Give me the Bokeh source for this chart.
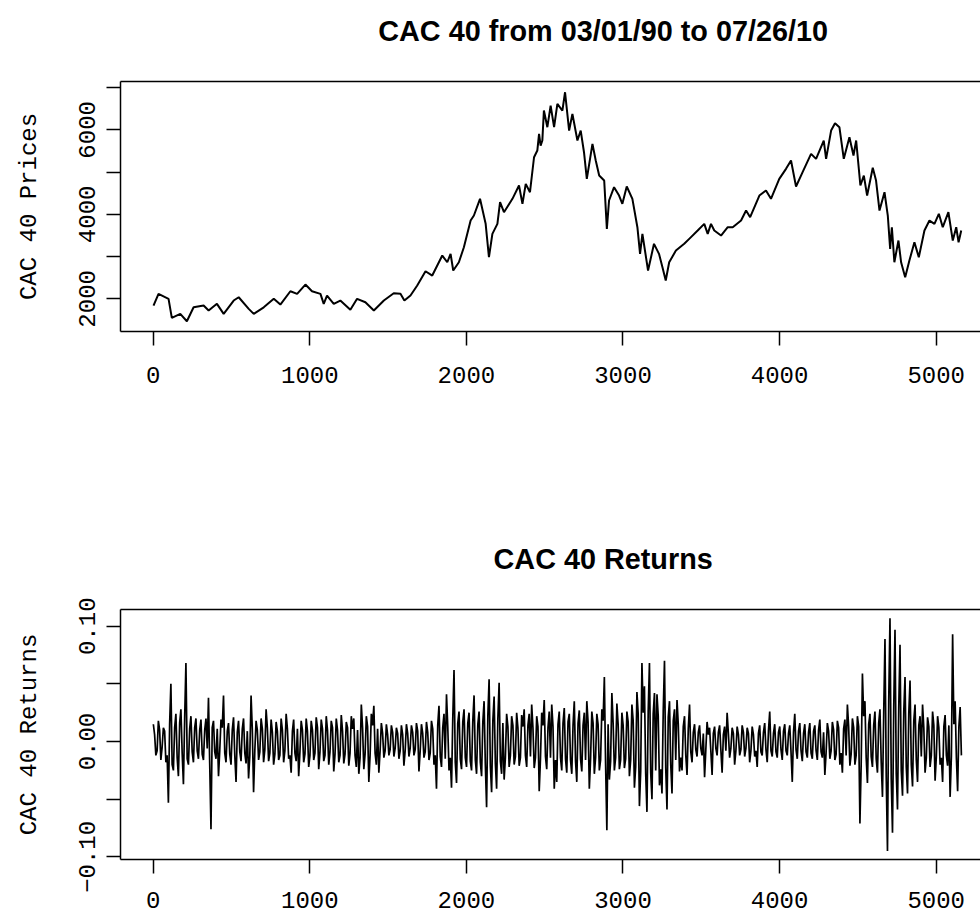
import numpy as np
from bokeh.plotting import figure
from bokeh.layouts import column
from bokeh.models import Range1d, FixedTicker, LinearAxis
from bokeh.core.properties import value
from bokeh.embed import file_html
from bokeh.resources import INLINE

# ---- data ----
price_day = [2,34,98,119,173,215,258,322,354,407,
             450,514,546,610,642,706,770,812,876,919,
             972,1014,1068,1089,1110,1153,1195,1259,1302,1355,
             1409,1473,1536,1579,1604,1643,1686,1739,1782,1846,
             1878,1899,1916,1952,1984,2027,2048,2087,2123,2144,
             2166,2198,2215,2240,2294,2336,2358,2379,2406,2432,
             2453,2464,2474,2485,2495,2517,2538,2560,2581,2613,
             2630,2656,2677,2709,2730,2751,2769,2805,2826,2848,
             2880,2897,2911,2943,2975,2996,3024,3060,3092,3109,
             3124,3160,3198,3230,3252,3273,3295,3338,3391,3423,
             3477,3519,3541,3562,3583,3626,3669,3701,3754,3786,
             3812,3871,3913,3945,3998,4041,4073,4105,4147,4201,
             4233,4282,4297,4329,4354,4382,4410,4446,4472,4489,
             4516,4538,4559,4595,4616,4638,4670,4691,4706,4717,
             4733,4759,4776,4802,4829,4861,4889,4925,4957,4989,
             5017,5042,5078,5106,5128,5143,5160]
price_val = [1841,2118,2000,1550,1645,1470,1800,1841,1723,1882,
             1645,1960,2038,1763,1645,1800,2000,1865,2180,2118,
             2338,2180,2118,1882,2078,1882,1960,1740,2000,1920,
             1723,1960,2133,2118,1960,2078,2315,2653,2551,3025,
             2866,3065,2670,2866,3221,3853,3972,4367,3775,2985,
             3538,3775,4287,4050,4367,4682,4249,4722,4523,5351,
             5510,5905,5628,5747,6457,6062,6575,6062,6615,6457,
             6890,5983,6379,5747,5983,5470,4840,5668,5273,4918,
             4800,3657,4327,4642,4445,4249,4658,4367,3695,3065,
             3538,2670,3302,3065,2748,2433,2866,3143,3302,3420,
             3617,3775,3538,3775,3617,3498,3695,3695,3853,4090,
             3932,4445,4563,4367,4840,5077,5273,4658,4998,5432,
             5313,5747,5313,5983,6156,6062,5313,5825,5392,5747,
             4682,4918,4445,5101,4800,4090,4523,3972,3183,3695,
             2866,3380,2866,2511,2906,3340,2985,3617,3853,3775,
             4012,3695,4050,3380,3695,3340,3617]

# returns: outer samples every 16 trading days (day 1, 17, 33, ...)
return_step = 16
return_outer = [
    0.015,-0.012,0.018,-0.016,0.012,-0.018,-0.053,0.050,-0.025,0.024,-0.030,0.028,-0.037,0.068,-0.020,0.022,-0.018,0.020,-0.015,0.019,
    -0.016,0.020,0.038,-0.076,0.018,-0.015,-0.030,0.019,0.040,-0.018,0.016,-0.020,0.021,-0.035,0.018,-0.017,0.020,-0.019,-0.032,0.040,
    -0.044,0.018,-0.016,0.020,-0.018,0.028,-0.017,0.019,-0.020,0.017,-0.016,0.020,-0.018,0.024,-0.015,-0.027,0.019,-0.017,-0.030,0.018,
    -0.018,0.020,-0.022,0.018,-0.016,0.021,-0.024,0.019,-0.017,0.022,-0.020,0.018,-0.026,0.020,-0.018,0.023,-0.019,0.017,-0.021,0.022,
    0.020,-0.022,-0.028,0.032,-0.024,0.022,-0.035,0.024,0.031,-0.020,-0.027,0.016,-0.014,0.015,-0.012,0.014,-0.013,0.012,-0.015,0.014,
    -0.021,0.015,-0.013,0.014,-0.012,0.016,-0.026,0.015,-0.014,0.017,-0.016,0.018,-0.020,-0.041,0.031,-0.022,0.024,0.041,-0.025,-0.040,
    0.062,-0.036,0.026,-0.024,0.028,-0.022,0.025,-0.025,0.040,-0.028,0.026,-0.030,0.035,-0.057,0.054,-0.044,0.039,-0.041,0.051,-0.028,
    -0.033,0.024,-0.022,0.022,-0.020,0.025,-0.021,0.023,0.028,-0.022,0.024,0.032,-0.023,0.022,-0.043,0.025,0.036,-0.024,0.026,0.032,
    -0.041,-0.035,0.026,-0.025,0.029,-0.027,0.024,-0.028,0.035,-0.035,0.027,-0.026,0.025,0.035,-0.041,0.026,-0.028,0.024,-0.025,0.028,
    0.056,-0.077,-0.033,0.042,-0.025,0.033,-0.024,0.025,-0.023,0.026,-0.030,0.032,-0.040,0.043,-0.056,0.068,0.048,-0.061,0.068,-0.050,
    0.042,0.041,-0.038,-0.045,0.070,-0.059,0.035,-0.045,0.028,0.036,-0.026,-0.025,0.022,-0.029,0.032,-0.018,0.015,-0.013,0.014,-0.012,
    -0.031,0.017,0.012,-0.029,0.013,-0.012,0.014,-0.027,0.013,0.025,-0.014,0.012,-0.020,0.013,-0.012,0.014,-0.013,0.012,-0.018,0.013,
    -0.013,-0.022,0.014,-0.012,0.016,-0.018,0.026,-0.013,0.015,-0.014,0.013,-0.016,0.015,-0.012,0.014,-0.035,0.024,-0.015,0.016,-0.017,
    0.015,-0.014,0.016,-0.015,0.014,-0.016,0.019,-0.014,-0.029,0.016,-0.015,0.017,-0.016,0.018,-0.020,-0.027,0.019,0.032,-0.021,0.020,
    -0.020,0.022,-0.071,0.059,0.035,-0.036,0.024,-0.022,0.026,-0.027,0.028,-0.048,0.089,-0.095,0.107,-0.079,0.097,-0.059,0.084,-0.047,
    0.056,-0.045,0.053,-0.039,0.032,-0.035,0.022,0.032,-0.027,0.021,-0.022,0.026,-0.034,0.022,-0.020,-0.035,0.023,-0.021,-0.048,0.093,
    0.035,-0.043,0.030]
# returns: in-between samples (8 trading days after each outer sample)
return_inner = [
    0.006,-0.008,0.010,-0.005,0.009,-0.012,0.015,-0.020,0.012,-0.014,0.016,-0.010,0.020,-0.015,0.011,-0.009,0.012,-0.008,0.010,-0.011,
    0.010,-0.006,-0.020,0.012,-0.009,0.011,-0.008,0.012,-0.010,0.009,-0.011,0.010,-0.012,0.008,-0.009,0.011,-0.010,0.009,-0.012,0.010,
    -0.008,0.010,-0.009,0.011,-0.007,0.012,-0.010,0.008,-0.011,0.009,-0.012,0.010,-0.008,0.011,-0.012,0.009,-0.010,0.011,-0.009,0.010,
    -0.011,0.009,-0.012,0.010,-0.010,0.012,-0.009,0.011,-0.012,0.010,-0.009,0.012,-0.011,0.010,-0.012,0.009,-0.011,0.012,-0.010,0.011,
    -0.012,0.010,-0.014,0.012,-0.011,0.013,-0.012,0.014,-0.010,0.011,-0.008,0.007,-0.008,0.006,-0.007,0.008,-0.006,0.007,-0.008,0.006,
    -0.008,0.007,-0.006,0.008,-0.007,0.009,-0.008,0.007,-0.009,0.008,-0.010,0.011,-0.012,0.014,-0.013,0.012,-0.015,0.013,-0.014,0.020,
    -0.018,0.016,-0.015,0.017,-0.014,0.016,-0.017,0.018,-0.016,0.015,-0.018,0.017,-0.020,0.022,-0.021,0.018,-0.019,0.020,-0.017,0.016,
    -0.014,0.013,-0.012,0.014,-0.013,0.012,-0.014,0.013,-0.012,0.014,-0.013,0.012,-0.014,0.013,-0.015,0.014,-0.013,0.012,-0.014,0.013,
    -0.016,0.015,-0.014,0.016,-0.015,0.017,-0.016,0.014,-0.017,0.016,-0.015,0.014,-0.016,0.017,-0.015,0.016,-0.014,0.015,-0.016,0.018,
    -0.020,0.015,-0.017,0.016,-0.014,0.015,-0.016,0.014,-0.015,0.017,-0.016,0.018,-0.022,0.024,-0.026,0.025,-0.028,0.026,-0.027,0.024,
    -0.025,0.022,-0.024,0.026,-0.023,0.021,-0.020,0.018,-0.016,0.015,-0.014,0.013,-0.012,0.011,-0.009,0.008,-0.007,0.008,-0.006,0.007,
    -0.007,0.006,-0.008,0.007,-0.006,0.008,-0.007,0.006,-0.008,0.007,-0.006,0.007,-0.008,0.006,-0.007,0.008,-0.006,0.007,-0.008,0.006,
    -0.008,0.007,-0.009,0.008,-0.007,0.009,-0.008,0.007,-0.009,0.008,-0.007,0.009,-0.008,0.007,-0.009,0.008,-0.007,0.009,-0.008,0.007,
    -0.009,0.008,-0.010,0.009,-0.008,0.010,-0.009,0.008,-0.010,0.009,-0.008,0.010,-0.011,0.012,-0.010,0.011,-0.012,0.013,-0.011,0.012,
    -0.012,0.013,-0.020,0.022,-0.014,0.015,-0.013,0.014,-0.015,0.016,-0.018,0.025,-0.030,0.035,-0.032,0.030,-0.028,0.030,-0.025,0.026,
    -0.022,0.024,-0.020,0.018,-0.016,0.014,-0.013,0.012,-0.014,0.013,-0.012,0.014,-0.013,0.012,-0.014,0.013,-0.012,0.014,-0.013,0.015,
    -0.014,0.013,-0.012]

return_day, return_val = [], []
for i, (a, b) in enumerate(zip(return_outer, return_inner)):
    return_day += [1 + return_step * i, 1 + return_step * i + return_step // 2]
    return_val += [a, b]

x_ticks = [0, 1000, 2000, 3000, 4000, 5000]
price_ticks_labelled = [2000, 4000, 6000]
price_ticks_unlabelled = [3000, 5000, 7000]
ret_ticks_labelled = [-0.10, 0.0, 0.10]
ret_ticks_unlabelled = [-0.05, 0.05]
ret_tick_labels = {-0.1: "\u22120.10", 0: "0.00", 0.1: "0.10"}
price_tick_labels = {2000: "2000", 4000: "4000", 6000: "6000"}
titles = ["CAC 40 from 03/01/90 to 07/26/10", "CAC 40 Returns"]

MONO = "Liberation Mono"
SANS = "Liberation Sans"
W = 980
FRAME_L = 120


def title_strip(text, height, baseline_from_top):
    t = figure(width=W, height=height, output_backend="svg", toolbar_location=None,
               x_range=Range1d(0, W), y_range=Range1d(0, height),
               x_axis_type=None, y_axis_type=None, min_border=0)
    t.outline_line_color = None
    t.xgrid.grid_line_color = None
    t.ygrid.grid_line_color = None
    t.text(x=[(FRAME_L + W) / 2], y=[height - baseline_from_top], text=[text],
           text_align="center", text_baseline="alphabetic",
           text_font=value(SANS), text_font_size="28.8px", text_font_style="bold",
           text_color="black")
    return t


def style(p, ylab_ticks, yunlab_ticks, ylabels, ylab, xstandoff):
    p.xgrid.grid_line_color = None
    p.ygrid.grid_line_color = None
    xa = p.below[0]
    ya = p.left[0]
    xa.ticker = FixedTicker(ticks=x_ticks, minor_ticks=[])
    ya.ticker = FixedTicker(ticks=ylab_ticks, minor_ticks=yunlab_ticks)
    ya.major_label_overrides = ylabels
    # box drawn by axis lines (left, bottom, top); right edge lies beyond the page
    p.outline_line_color = None
    top = LinearAxis(ticker=FixedTicker(ticks=[], minor_ticks=[]), axis_line_color="black",
                     axis_line_width=1.5, major_tick_line_color=None,
                     minor_tick_line_color=None)
    p.add_layout(top, "above")
    for ax in (xa, ya):
        ax.axis_line_color = "black"
        ax.axis_line_width = 1.5
        ax.major_tick_in = 0
        ax.major_tick_out = 14
        ax.major_tick_line_color = "black"
        ax.major_tick_line_width = 1.5
        ax.minor_tick_in = 0
        ax.minor_tick_out = 14
        ax.minor_tick_line_color = "black"
        ax.minor_tick_line_width = 1.5
        ax.major_label_text_font = MONO
        ax.major_label_text_font_size = "24px"
        ax.major_label_text_color = "black"
    xa.major_label_standoff = xstandoff
    ya.major_label_standoff = 11
    ya.major_label_orientation = "vertical"
    ya.axis_label = ylab
    ya.axis_label_text_font = MONO
    ya.axis_label_text_font_size = "24px"
    ya.axis_label_text_font_style = "normal"
    ya.axis_label_text_color = "black"
    ya.axis_label_standoff = 34


x_range_lo, x_range_hi = -208.8, 5283

t1 = title_strip(titles[0], 50, 30.5)

p1 = figure(width=W, height=420, output_backend="svg", toolbar_location=None,
            x_range=Range1d(x_range_lo, x_range_hi), y_range=Range1d(1227, 7144),
            min_border_left=FRAME_L, min_border_right=0, min_border_top=31, min_border_bottom=139)
p1.line(price_day, price_val, line_color="black", line_width=2.0)
style(p1, price_ticks_labelled, price_ticks_unlabelled, price_tick_labels, "CAC 40 Prices", 21)

t2 = title_strip(titles[1], 120, 88.8)

p2 = figure(width=W, height=329, output_backend="svg", toolbar_location=None,
            x_range=Range1d(x_range_lo, x_range_hi), y_range=Range1d(-0.1023, 0.1145),
            min_border_left=FRAME_L, min_border_right=0, min_border_top=19, min_border_bottom=60)
p2.line(return_day, return_val, line_color="black", line_width=1.7)
style(p2, ret_ticks_labelled, ret_ticks_unlabelled, ret_tick_labels, "CAC 40 Returns", 18)

layout = column(t1, p1, t2, p2, spacing=0)
open("out.html", "w").write(file_html(layout, INLINE))
